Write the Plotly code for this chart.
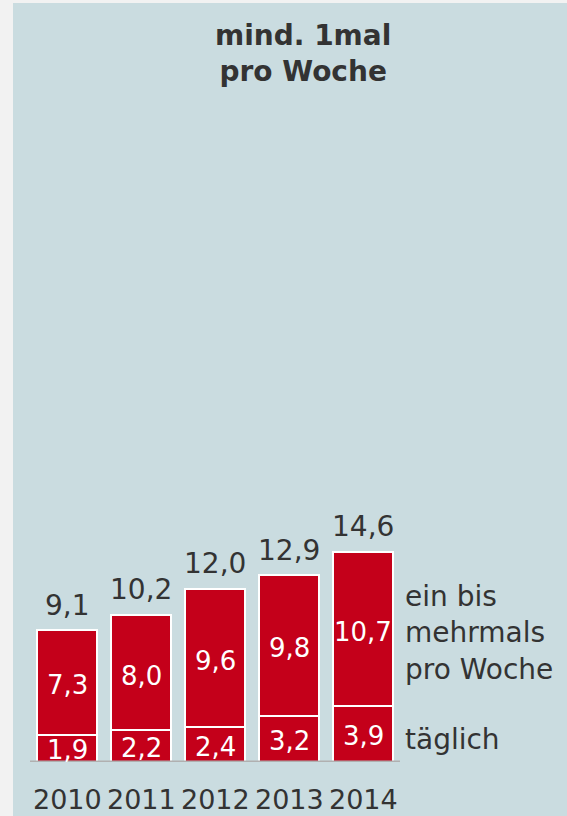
import plotly.graph_objects as go

years = ["2010", "2011", "2012", "2013", "2014"]
taeglich = [1.9, 2.2, 2.4, 3.2, 3.9]
woechentlich = [7.3, 8.0, 9.6, 9.8, 10.7]
gesamt = [9.1, 10.2, 12.0, 12.9, 14.6]

RED = "#C4001A"
PANEL = "#CADCE0"
TXT = "#333333"
FONT = "DejaVu Sans"


def fmt(v):
    return f"{v:.1f}".replace(".", ",")


x = list(range(len(years)))

fig = go.Figure()
fig.add_trace(go.Bar(x=x, y=taeglich, width=0.81, marker=dict(color=RED, line=dict(color="white", width=2))))
fig.add_trace(go.Bar(x=x, y=woechentlich, width=0.81, marker=dict(color=RED, line=dict(color="white", width=2))))

ann = []
for i in x:
    # totals above bars
    ann.append(dict(x=i, y=gesamt[i], text=fmt(gesamt[i]), showarrow=False, yanchor="bottom", yshift=7,
                    font=dict(size=28, color=TXT)))
    # segment values
    ann.append(dict(x=i, y=taeglich[i] / 2, text=fmt(taeglich[i]), showarrow=False, yshift=-2,
                    font=dict(size=26, color="white")))
    ann.append(dict(x=i, y=taeglich[i] + woechentlich[i] / 2, text=fmt(woechentlich[i]), showarrow=False,
                    yshift=-3, font=dict(size=26, color="white")))
    # year labels
    ann.append(dict(x=i, y=0, text=years[i], showarrow=False, yanchor="top", yshift=-20,
                    font=dict(size=27, color=TXT)))

last = x[-1]
ann.append(dict(x=last, y=taeglich[-1] + woechentlich[-1] / 2, text="ein bis<br>mehrmals<br>pro Woche",
                showarrow=False, xanchor="left", xshift=40, yshift=-4, align="left",
                font=dict(size=28, color=TXT)))
ann.append(dict(x=last, y=taeglich[-1] / 2, text="täglich", showarrow=False, xanchor="left", xshift=40,
                yshift=-6, font=dict(size=28, color=TXT)))
ann.append(dict(xref="paper", yref="paper", x=303 / 567, y=1, yanchor="top", yshift=-17,
                text="<b>mind. 1mal<br>pro Woche</b>", showarrow=False,
                font=dict(size=28, color=TXT)))

fig.update_layout(
    width=567, height=816,
    margin=dict(l=0, r=0, t=0, b=54),
    barmode="stack", showlegend=False,
    paper_bgcolor=PANEL, plot_bgcolor=PANEL,
    font=dict(family=FONT),
    xaxis=dict(range=[-67 / 74, 500 / 74], visible=False, fixedrange=True),
    yaxis=dict(range=[0, 762 / 14.4], visible=False, fixedrange=True),
    annotations=ann,
    shapes=[
        dict(type="rect", xref="paper", yref="paper", x0=0, x1=13 / 567, y0=-0.2, y1=1.1,
             fillcolor="#F2F2F2", line=dict(width=0), layer="above"),
        dict(type="rect", xref="paper", yref="paper", x0=0, x1=1, y0=1 - 3 / 762, y1=1.1,
             fillcolor="#F2F2F2", line=dict(width=0), layer="above"),
        dict(type="line", xref="x", yref="y", x0=-0.5, x1=4.5, y0=0, y1=0,
             line=dict(color="#B0B0B0", width=3), layer="above"),
    ],
)

fig.write_html("out.html", config=dict(displayModeBar=False),
               post_script="document.body.style.margin='0px';document.body.style.background='#F2F2F2';")
